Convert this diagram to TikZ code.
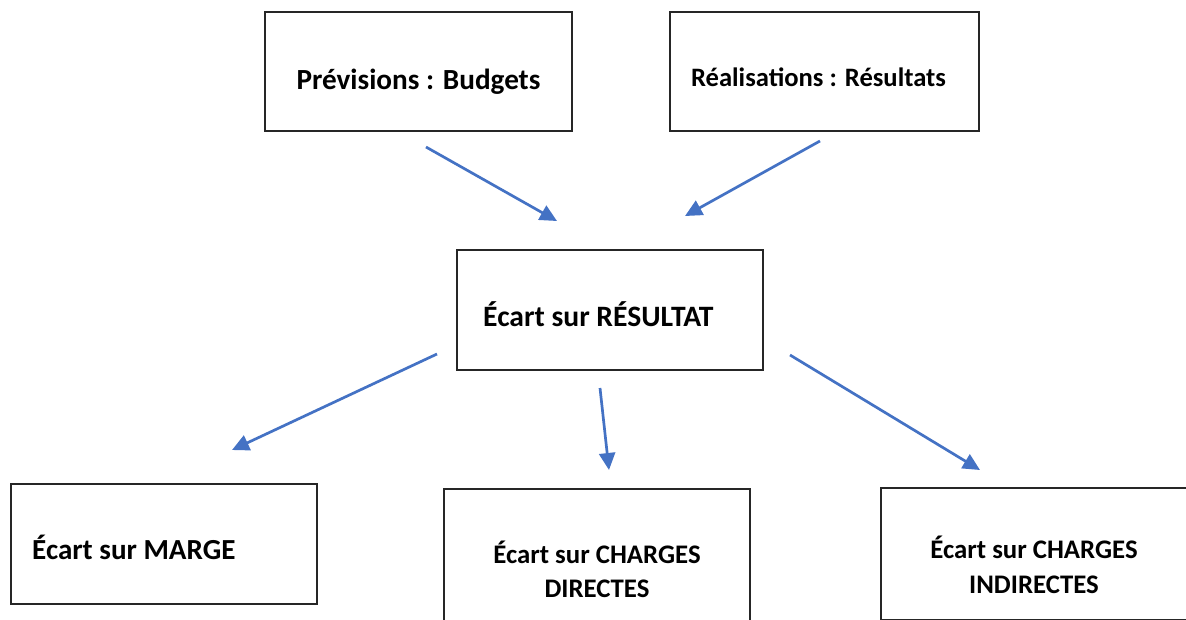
\documentclass[tikz,border=0pt]{standalone}
\usepackage{fontspec}
\setmainfont{Carlito}
\usetikzlibrary{arrows.meta}
\definecolor{arrowblue}{HTML}{4472C4}
\tikzset{
  box/.style={draw=black!85, line width=1.2pt, minimum width=#1, inner sep=0pt},
  lbl/.style={inner sep=0pt, font=\bfseries, anchor=base},
  conn/.style={draw=arrowblue, line width=2.7pt, -{Triangle[length=17pt,width=16pt]}}
}
\begin{document}
\begin{tikzpicture}[x=1pt,y=-1pt]
\useasboundingbox (0,0) rectangle (1186,619);
% boxes
\node[box=307pt, minimum height=119pt] (b1) at (418.5,71.5) {};
\node[box=309pt, minimum height=119pt] (b2) at (824.5,71.5) {};
\node[box=306pt, minimum height=120pt] (b3) at (610,310) {};
\node[box=306pt, minimum height=120pt] (b4) at (164,544) {};
\node[box=306pt, minimum height=140pt] (b5) at (597,559) {};
\node[box=308pt, minimum height=132pt] (b6) at (1035,554) {};
% texts
\node[lbl, font=\fontsize{29.2}{32}\selectfont\bfseries] (t1) at (418.5,89) {Prévisions : Budgets};
\node[lbl, font=\fontsize{26.6}{30}\selectfont\bfseries] (t2) at (818.5,86) {Réalisations : Résultats};
\node[lbl, font=\fontsize{29.6}{32}\selectfont\bfseries, anchor=base west] (t3) at (483,326) {Écart sur RÉSULTAT};
\node[lbl, font=\fontsize{29.1}{32}\selectfont\bfseries, anchor=base west] (t4) at (32,559) {Écart sur MARGE};
\node[lbl, font=\fontsize{26.8}{30}\selectfont\bfseries] (t5a) at (597,563) {Écart sur CHARGES};
\node[lbl, font=\fontsize{26.8}{30}\selectfont\bfseries] (t5b) at (597,597) {DIRECTES};
\node[lbl, font=\fontsize{26.8}{30}\selectfont\bfseries] (t6a) at (1034,558) {Écart sur CHARGES};
\node[lbl, font=\fontsize{26.8}{30}\selectfont\bfseries] (t6b) at (1034,593) {INDIRECTES};
% arrow endpoints
\coordinate (a1s) at (426,147); \coordinate (a1e) at (557,221);
\coordinate (a2s) at (820,141); \coordinate (a2e) at (685,216);
\coordinate (a3s) at (437,354); \coordinate (a3e) at (232,450);
\coordinate (a4s) at (600,388); \coordinate (a4e) at (609,470);
\coordinate (a5s) at (790,355); \coordinate (a5e) at (980,470);
\draw[conn] (a1s) -- (a1e);
\draw[conn] (a2s) -- (a2e);
\draw[conn] (a3s) -- (a3e);
\draw[conn] (a4s) -- (a4e);
\draw[conn] (a5s) -- (a5e);
\end{tikzpicture}
\end{document}
